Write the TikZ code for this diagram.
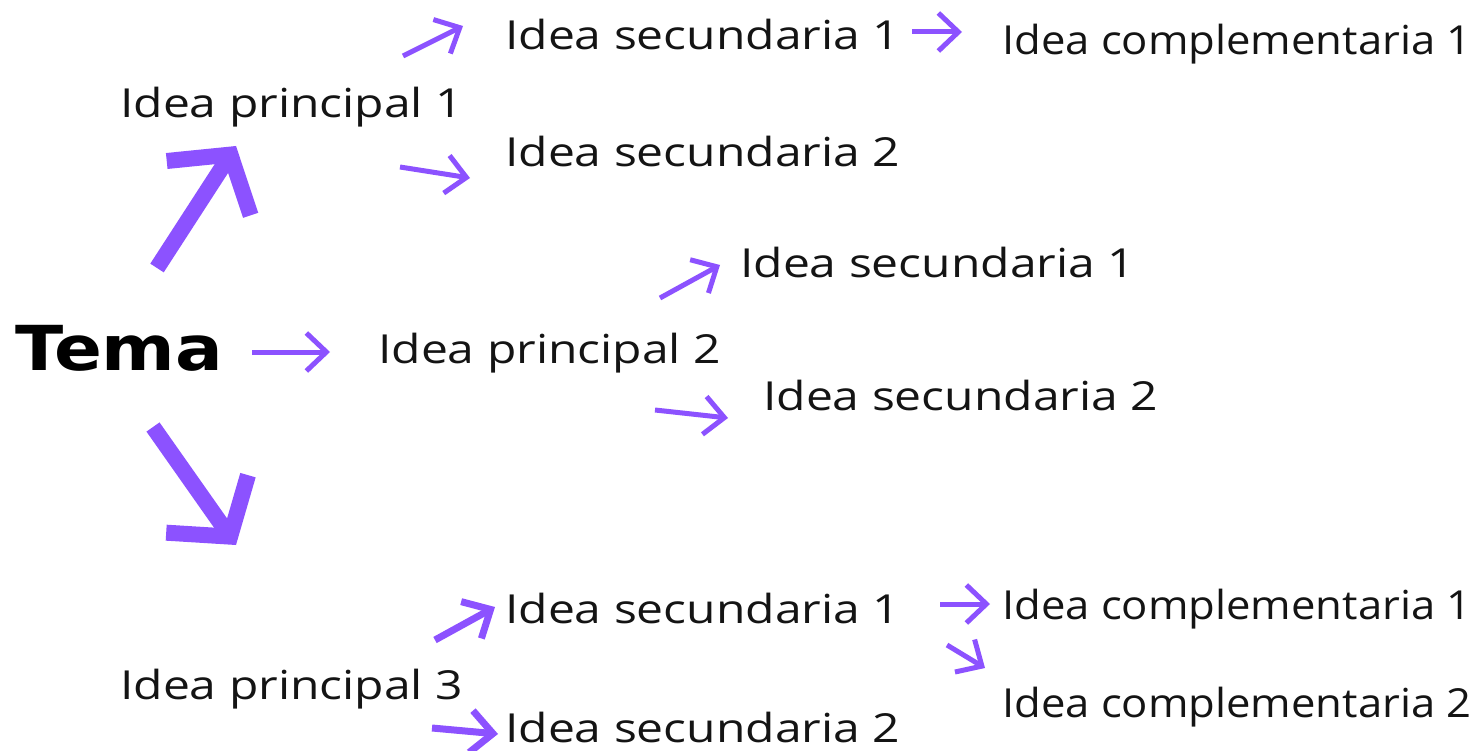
\documentclass[tikz,border=0pt]{standalone}
\usepackage{fontspec}
\setmainfont{Open Sans}[FakeStretch=1.2]
\newfontfamily\compfont{Open Sans}[FakeStretch=1.09]
\newfontfamily\temafont{DejaVu Sans}[FakeStretch=1.14]
\usetikzlibrary{arrows.meta}
\definecolor{arrowpurple}{HTML}{8C52FF}
\definecolor{txt}{HTML}{141414}
\begin{document}
\begin{tikzpicture}[x=1pt,y=-1pt,
  lbl/.style={anchor=base west,inner sep=0pt,text=txt,font=\fontsize{40}{48}\selectfont},
  complbl/.style={lbl,font=\compfont\fontsize{40}{48}\selectfont},
  bigarrow/.style={draw=arrowpurple,line width=16pt,-{Straight Barb[length=40pt,width=100pt]}},
  thinarrow/.style={draw=arrowpurple,line width=5pt,-{Straight Barb[length=20pt,width=38pt]}},
  midarrow/.style={draw=arrowpurple,line width=7pt,-{Straight Barb[length=22pt,width=42pt]}}]
\useasboundingbox (0,0) rectangle (1482,751);
% texts
\node[anchor=base west,inner sep=0pt,font=\temafont\bfseries\fontsize{62}{70}\selectfont] (tema) at (15,370) {Tema};
\node[lbl] (ip1) at (120,118) {Idea principal 1};
\node[lbl] (ip2) at (378,363) {Idea principal 2};
\node[lbl] (ip3) at (120,699) {Idea principal 3};
\node[lbl] (is11) at (505,50) {Idea secundaria 1};
\node[lbl] (is12) at (505,167) {Idea secundaria 2};
\node[lbl] (is21) at (740,277) {Idea secundaria 1};
\node[lbl] (is22) at (763,410) {Idea secundaria 2};
\node[lbl] (is31) at (505,623) {Idea secundaria 1};
\node[lbl] (is32) at (505,742) {Idea secundaria 2};
\node[complbl] (ic11) at (1002,55) {Idea complementaria 1};
\node[complbl] (ic31) at (1002,619) {Idea complementaria 1};
\node[complbl] (ic32) at (1002,717) {Idea complementaria 2};
% arrow end points
\coordinate (a1s) at (157,268); \coordinate (a1e) at (236,146);
\coordinate (a2s) at (153,427); \coordinate (a2e) at (236,545);
\coordinate (a3s) at (252,352); \coordinate (a3e) at (330,352);
\coordinate (a4s) at (403,56);  \coordinate (a4e) at (463,26);
\coordinate (a5s) at (400,167); \coordinate (a5e) at (470,178);
\coordinate (a6s) at (912,32);  \coordinate (a6e) at (962,32);
\coordinate (a7s) at (660,298); \coordinate (a7e) at (720,265);
\coordinate (a8s) at (655,410); \coordinate (a8e) at (728,418);
\coordinate (a9s) at (435,640); \coordinate (a9e) at (495,607);
\coordinate (a10s) at (432,728); \coordinate (a10e) at (498,734);
\coordinate (a11s) at (940,604); \coordinate (a11e) at (990,604);
\coordinate (a12s) at (947,645); \coordinate (a12e) at (985,668);
% arrows
\draw[bigarrow] (a1s) -- (a1e);
\draw[bigarrow] (a2s) -- (a2e);
\draw[thinarrow] (a3s) -- (a3e);
\draw[thinarrow] (a4s) -- (a4e);
\draw[thinarrow] (a5s) -- (a5e);
\draw[thinarrow] (a6s) -- (a6e);
\draw[thinarrow] (a7s) -- (a7e);
\draw[thinarrow] (a8s) -- (a8e);
\draw[midarrow] (a9s) -- (a9e);
\draw[midarrow] (a10s) -- (a10e);
\draw[thinarrow] (a11s) -- (a11e);
\draw[thinarrow] (a12s) -- (a12e);
\end{tikzpicture}
\end{document}
